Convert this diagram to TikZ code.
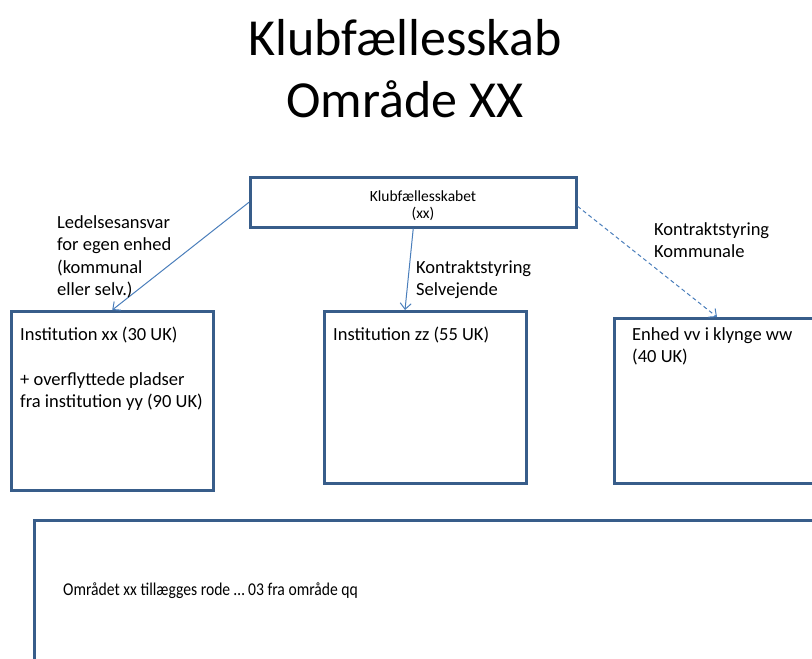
\documentclass[tikz,border=0pt]{standalone}
\usepackage{fontspec}
\setmainfont{Carlito}
\usetikzlibrary{
    arrows.meta,
    positioning,
    calc
}
\definecolor{boxblue}{RGB}{56,93,138}
\definecolor{linkblue}{RGB}{74,126,187}

\begin{document}
\begin{tikzpicture}[x=1pt, y=-1pt,
        unitbox/.style={draw=boxblue, line width=2.5pt, anchor=north west, inner sep=0pt},
        unittext/.style={anchor=base west, inner sep=0pt, align=left, font=\fontsize{18.5}{22.5}\selectfont},
        link/.style={draw=linkblue, line width=1pt, -{Straight Barb[length=6pt, width=11pt]}}]
                \useasboundingbox (0, 0) rectangle (812, 659);
                \clip (0, 0) rectangle (812, 659);
                \node [anchor=base, inner sep=0pt, align=center, font=\fontsize{52}{62}\selectfont] (title) at (405, 117) {Klubfællesskab\\Område XX};

                \node [unitbox, minimum width=326, minimum height=50] (klub) at (249, 176) {};
                \node [anchor=base, inner sep=0pt, align=center, font=\fontsize{15.5}{16.5}\selectfont] (klubtext) at (423, 218) {Klubfællesskabet\\(xx)};

                \node [unitbox, minimum width=202, minimum height=179] (instxx) at (10, 310) {};
                \node [unitbox, minimum width=202, minimum height=172] (instzz) at (323, 310) {};
                \node [unitbox, minimum width=230, minimum height=165] (enhed) at (613, 317) {};
                \node [unitbox, minimum width=800, minimum height=170] (omraade) at (33, 519) {};

                \node [unittext] (instxxtext) at (20, 407.5) {Institution xx (30 UK)\\[22.5pt]+ overflyttede pladser\\fra institution yy (90 UK)};
                \node [unittext] (instzztext) at (333, 340) {Institution zz (55 UK)};
                \node [unittext] (enhedtext) at (632, 362.5) {Enhed vv i klynge ww\\(40 UK)};
                \node [anchor=base west, inner sep=0pt, font=\fontsize{18}{22}\selectfont] (omraadetext) at (63, 595) {\scalebox{0.87}[1]{Området xx tillægges rode … 03 fra område qq}};

                \draw [link] (klub.west) -- (instxx.north);
                \draw [link] (klub.south) -- ($(instzz.north west)+(82, 0)$);
                \draw [link, dashed, dash pattern=on 4pt off 3pt] ($(klub.east)+(0, 4)$) -- ($(enhed.north west)+(104, 0)$);

                \node [unittext] (ledelse) at (57, 295.5) {Ledelsesansvar\\for egen enhed\\(kommunal\\eller selv.)};
                \node [unittext] (selvejende) at (416, 295.5) {Kontraktstyring\\Selvejende};
                \node [unittext] (kommunale) at (654, 257.5) {Kontraktstyring\\Kommunale};
\end{tikzpicture}
\end{document}
